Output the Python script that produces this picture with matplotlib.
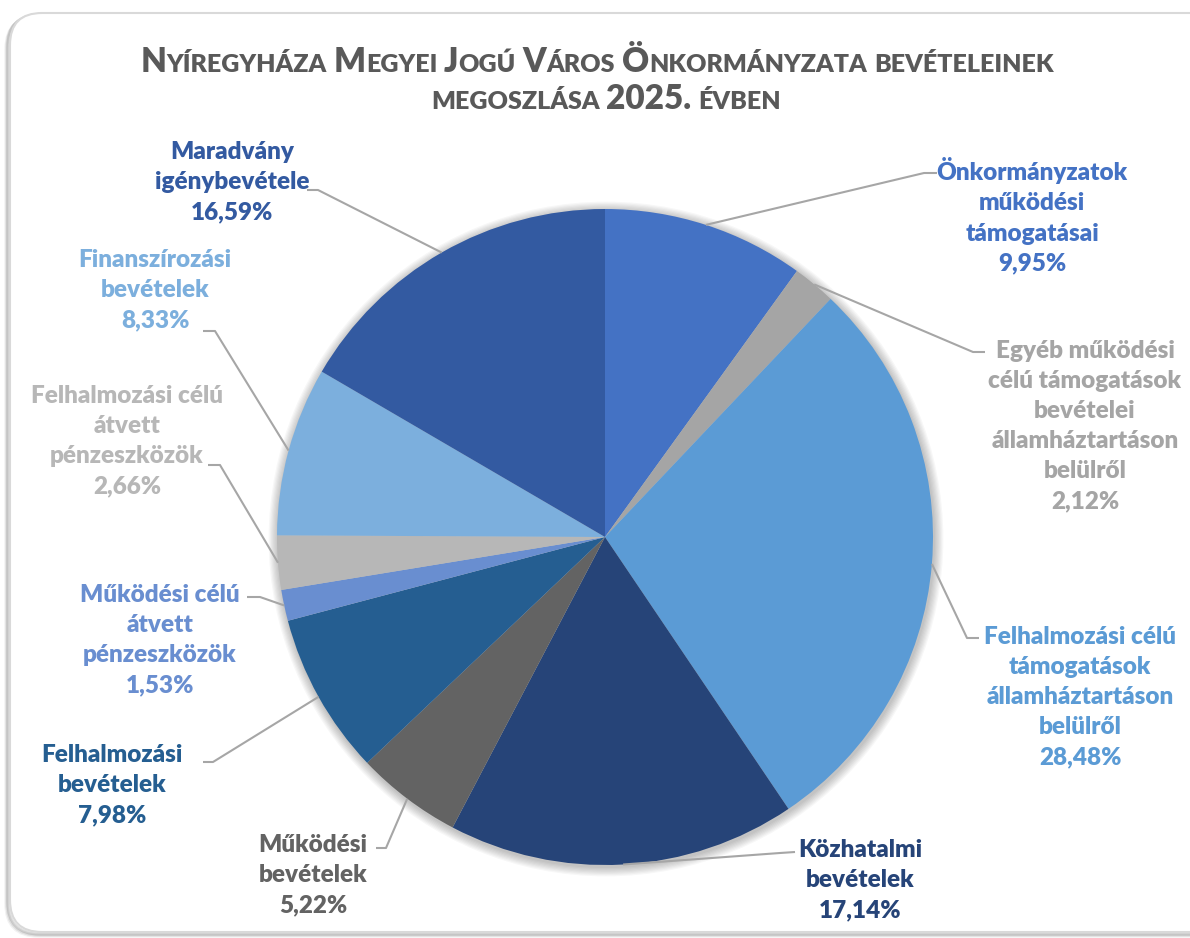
import numpy as np
import matplotlib
matplotlib.use("Agg")
import matplotlib.pyplot as plt
from matplotlib.patches import FancyBboxPatch, Circle
from matplotlib.offsetbox import TextArea, HPacker, AnnotationBbox

# ======================================================
# DATA
# ======================================================

categories = [
    "Önkormányzatok\nműködési\ntámogatásai",
    "Egyéb működési\ncélú támogatások\nbevételei\nállamháztartáson\nbelülről",
    "Felhalmozási célú\ntámogatások\nállamháztartáson\nbelülről",
    "Közhatalmi\nbevételek",
    "Működési\nbevételek",
    "Felhalmozási\nbevételek",
    "Működési célú\nátvett\npénzeszközök",
    "Felhalmozási célú\nátvett\npénzeszközök",
    "Finanszírozási\nbevételek",
    "Maradvány\nigénybevétele",
]

shares = [9.95, 2.12, 28.48, 17.14, 5.22, 7.98, 1.53, 2.66, 8.33, 16.59]

colors = ["#4472C4", "#A5A5A5", "#5B9BD5", "#264478", "#636363",
          "#255E91", "#698ED0", "#B7B7B7", "#7CAFDD", "#335AA1"]

# small caps title: (word, first letter capital?)
title_line1 = [("NYÍREGYHÁZA", True), ("MEGYEI", True), ("JOGÚ", True),
               ("VÁROS", True), ("ÖNKORMÁNYZATA", True), ("BEVÉTELEINEK", False)]
title_line2 = [("MEGOSZLÁSA", False), ("2025.", None), ("ÉVBEN", False)]

# ======================================================
# LAYOUT (pixels, y from top)
# ======================================================

W, H = 1190, 938
CX, CY, R = 605, 537, 328

label_pos = [(1032, 216), (1085, 426), (1080, 697), (860, 880), (313, 875),
             (112, 785), (160, 640), (127, 441), (155, 290), (232, 182)]

# (elbow, end) of the leader lines
leader_pts = [((924, 173), (937, 173)),
              ((973, 352), (985, 352)),
              ((967, 638), (979, 638)),
              ((780, 853), (795, 852)),
              ((386, 848), (376, 848)),
              ((213, 762), (203, 762)),
              ((260, 597), (247, 597)),
              ((220, 465), (208, 465)),
              ((215, 331), (203, 331)),
              ((318, 190), (307, 190))]

FONT = "Lato"
TITLE_COLOR = "#595959"
LINE_COLOR = "#A6A6A6"


def fy(y):
    return H - y


fig = plt.figure(figsize=(W / 100, H / 100), dpi=100)
ax = fig.add_axes([0, 0, 1, 1])
ax.set_xlim(0, W)
ax.set_ylim(0, H)
ax.set_aspect("equal")
ax.axis("off")

# chart frame with soft shadow
for i, a in enumerate([0.05, 0.08, 0.12]):
    off = 4 - i
    ax.add_patch(FancyBboxPatch((10 - off, fy(932) - off), 1220, 919,
                                boxstyle="round,pad=0,rounding_size=32",
                                facecolor="none", edgecolor="black",
                                linewidth=2.5, alpha=a, zorder=0))
ax.add_patch(FancyBboxPatch((10, fy(932)), 1220, 919,
                            boxstyle="round,pad=0,rounding_size=32",
                            facecolor="white", edgecolor="#D9D9D9",
                            linewidth=1.5, zorder=1))

# soft shadow round the pie
for i in range(8):
    ax.add_patch(Circle((CX + 1, fy(CY) - 2), R + 1 + i * 1.2,
                        facecolor="black", edgecolor="none",
                        alpha=0.03, zorder=2))

wedges, _ = ax.pie(shares, colors=colors, startangle=90, counterclock=False,
                   center=(CX, fy(CY)), radius=R, frame=True,
                   wedgeprops=dict(linewidth=0, zorder=3))
for w in wedges:
    w.set_zorder(3)
ax.set_xlim(0, W)
ax.set_ylim(0, H)
ax.axis("off")

# labels and leader lines
cum = np.cumsum([0] + shares[:-1])
for i, (name, v) in enumerate(zip(categories, shares)):
    mid = np.deg2rad(90 - (cum[i] + v / 2) * 3.6)
    ex = CX + R * np.cos(mid)
    ey = fy(CY) + R * np.sin(mid)
    (bx, by), (tx, ty) = leader_pts[i]
    ax.plot([ex, bx, tx], [ey, fy(by), fy(ty)], color=LINE_COLOR,
            linewidth=1.5, solid_capstyle="butt", zorder=4)
    pct = f"{v:.2f}".replace(".", ",") + "%"
    lx, ly = label_pos[i]
    ax.text(lx, fy(ly), name + "\n" + pct, ha="center", va="center",
            multialignment="center", fontsize=17.5, fontweight="heavy",
            family=FONT, color=colors[i], linespacing=1.45, zorder=5)


# title in small caps
def title_line(words, big=24, small=18):
    boxes = []
    for word, first_cap in words:
        props = dict(fontweight="heavy", color=TITLE_COLOR, family=FONT)
        if first_cap is None:
            parts = [TextArea(word, textprops=dict(fontsize=big, **props))]
        elif first_cap:
            parts = [TextArea(word[0], textprops=dict(fontsize=big, **props)),
                     TextArea(word[1:], textprops=dict(fontsize=small, **props))]
        else:
            parts = [TextArea(word, textprops=dict(fontsize=small, **props))]
        boxes.append(HPacker(children=parts, align="baseline", pad=0, sep=0))
    return HPacker(children=boxes, align="baseline", pad=0, sep=5)


for words, (x, y) in [(title_line1, (597, 62)), (title_line2, (606, 99))]:
    ab = AnnotationBbox(title_line(words), (x, fy(y)), xycoords="data",
                        box_alignment=(0.5, 0.5), frameon=False, zorder=6)
    ax.add_artist(ab)

fig.savefig("out.png", dpi=100, facecolor="white")
